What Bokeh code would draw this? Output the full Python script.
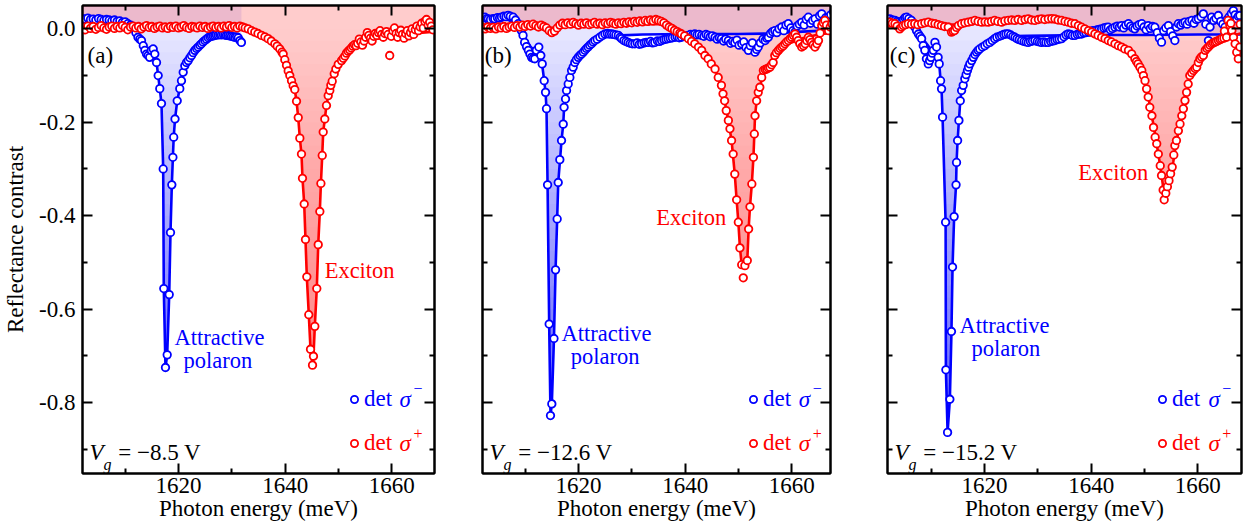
import numpy as np
from bokeh.plotting import figure
from bokeh.layouts import row
from bokeh.models import (Range1d, LinearAxis, FixedTicker, Label, Legend,
                          LegendItem, CustomJSTickFormatter)
from bokeh.core.properties import value
from bokeh.embed import file_html
from bokeh.resources import INLINE

FONT = "Liberation Serif"
BLUE = "#0000ff"
RED = "#ff0000"

# ---------------- data: (photon energy [meV], reflectance contrast) ----------------
# panel (a)  Vg = -8.5 V
A_BLUE = [(1602.0,0.022),(1602.5,0.021),(1603.0,0.023),(1603.5,0.020),(1604.0,0.021),(1604.5,0.019),
          (1605.0,0.022),(1605.5,0.020),(1606.0,0.018),(1606.5,0.020),(1607.0,0.019),(1607.5,0.017),
          (1608.0,0.019),(1608.5,0.016),(1609.0,0.017),(1609.5,0.014),(1610.0,0.015),(1610.5,0.011),
          (1611.0,0.008),(1611.5,0.002),(1612.0,-0.008),(1612.4,-0.018),(1612.75,-0.022),(1613.06,-0.025),
          (1613.4,-0.036),(1613.7,-0.046),(1614.0,-0.054),(1614.3,-0.057),(1614.6,-0.061),(1614.9,-0.046),
          (1615.26,-0.043),(1615.56,-0.054),(1615.88,-0.072),(1616.19,-0.100),(1616.49,-0.128),(1616.81,-0.160),
          (1617.13,-0.300),(1617.24,-0.556),(1617.56,-0.725),(1617.88,-0.698),(1618.26,-0.569),(1618.5,-0.436),
          (1618.75,-0.334),(1618.95,-0.275),(1619.1,-0.232),(1619.35,-0.193),(1619.76,-0.154),(1620.24,-0.128),
          (1620.56,-0.111),(1620.88,-0.093),(1621.18,-0.079),(1621.5,-0.072),(1621.82,-0.068),(1622.13,-0.062),
          (1622.44,-0.057),(1622.75,-0.051),(1623.06,-0.046),(1623.4,-0.042),(1623.69,-0.039),(1624.0,-0.035),
          (1624.3,-0.032),(1624.6,-0.028),(1624.93,-0.025),(1625.25,-0.022),(1625.57,-0.019),(1625.9,-0.017),
          (1626.19,-0.016),(1626.5,-0.015),(1626.8,-0.014),(1627.1,-0.013),(1627.44,-0.013),(1627.75,-0.012),
          (1628.06,-0.013),(1628.4,-0.012),(1628.7,-0.013),(1629.0,-0.014),(1629.3,-0.014),(1629.6,-0.015),
          (1629.93,-0.016),(1630.25,-0.017),(1630.56,-0.018),(1630.9,-0.017),(1631.2,-0.019),(1631.5,-0.025),
          (1631.8,-0.029)]
A_RED = [(1602.0,0.004),(1602.5,-0.002),(1603.0,0.006),(1603.5,0.001),(1604.0,0.005),(1604.5,-0.001),
         (1605.0,0.003),(1605.5,0.007),(1606.0,0.002),(1606.5,-0.001),(1607.0,0.004),(1607.5,0.006),
         (1608.0,0.001),(1608.5,0.005),(1609.0,0.002),(1609.5,0.007),(1610.0,0.003),(1610.5,-0.002),
         (1611.0,0.004),(1611.5,0.006),(1612.0,0.002),(1612.5,0.005),(1613.0,0.000),(1613.5,0.004),
         (1614.0,0.007),(1614.5,0.003),(1615.0,0.005),(1615.5,0.001),(1616.0,0.004),(1616.5,0.006),
         (1617.0,0.002),(1617.5,0.004),(1618.0,0.001),(1618.5,0.005),(1619.0,0.003),(1619.5,0.006),
         (1620.0,0.002),(1620.5,0.004),(1621.0,0.007),(1621.5,0.003),(1622.0,0.001),(1622.5,0.005),
         (1623.0,0.004),(1623.5,0.002),(1624.0,0.006),(1624.5,0.003),(1625.0,0.005),(1625.5,0.001),
         (1626.0,0.004),(1626.5,0.006),(1627.0,0.003),(1627.5,0.005),(1628.0,0.002),(1628.5,0.006),
         (1629.0,0.004),(1629.5,0.007),(1630.0,0.003),(1630.5,0.005),(1631.0,0.002),(1631.5,0.006),
         (1632.0,0.004),(1632.5,0.002),(1633.06,0.000),(1633.7,-0.004),(1634.3,-0.007),(1634.9,-0.010),
         (1635.56,-0.014),(1636.2,-0.017),(1636.8,-0.021),(1637.4,-0.026),(1638.06,-0.032),(1638.5,-0.037),
         (1639.0,-0.043),(1639.4,-0.050),(1639.63,-0.054),(1639.93,-0.066),(1640.25,-0.078),(1640.57,-0.090),
         (1640.87,-0.100),(1641.19,-0.111),(1641.5,-0.122),(1641.8,-0.130),(1642.13,-0.155),(1642.45,-0.190),
         (1642.75,-0.234),(1643.06,-0.268),(1643.25,-0.320),(1643.57,-0.375),(1643.81,-0.451),(1644.06,-0.531),
         (1644.43,-0.612),(1644.75,-0.686),(1645.13,-0.720),(1645.31,-0.701),(1645.56,-0.637),(1645.93,-0.556),
         (1646.2,-0.462),(1646.5,-0.391),(1646.7,-0.331),(1646.95,-0.271),(1647.13,-0.221),(1647.43,-0.193),
         (1647.75,-0.164),(1648.07,-0.143),(1648.37,-0.132),(1648.56,-0.121),(1648.82,-0.112),(1649.2,-0.096),
         (1649.5,-0.086),(1649.95,-0.076),(1650.57,-0.068),(1650.9,-0.063),(1651.2,-0.058),(1651.5,-0.052),
         (1651.8,-0.048),(1652.1,-0.045),(1652.4,-0.041),(1652.7,-0.037),(1653.0,-0.034),(1653.3,-0.036),
         (1653.6,-0.031),(1653.9,-0.022),(1654.2,-0.028),(1654.5,-0.035),(1654.8,-0.026),(1655.1,-0.018),
         (1655.4,-0.008),(1655.7,-0.014),(1656.0,-0.020),(1656.3,-0.026),(1656.6,-0.016),(1656.9,-0.010),
         (1657.2,-0.014),(1657.5,-0.008),(1657.8,-0.004),(1658.1,-0.012),(1658.4,-0.018),(1658.7,-0.010),
         (1659.0,-0.006),(1659.3,-0.012),(1659.6,-0.057),(1659.9,-0.016),(1660.2,-0.004),(1660.5,0.002),
         (1660.8,-0.010),(1661.1,-0.018),(1661.4,-0.008),(1661.7,-0.003),(1662.0,-0.012),(1662.3,-0.020),
         (1662.6,-0.010),(1662.9,-0.004),(1663.2,-0.015),(1663.5,-0.008),(1663.8,0.000),(1664.1,-0.012),
         (1664.4,-0.002),(1664.7,0.006),(1665.0,-0.004),(1665.3,0.004),(1665.6,0.012),(1665.9,0.002),
         (1666.2,0.016),(1666.5,0.020),(1666.8,0.008),(1667.1,0.014),(1667.4,0.006),(1667.7,-0.002)]
A_BLUE_FIT = [(1602,0.018),(1606,0.017),(1610,0.012),(1611,0.006),(1612,-0.008),(1613,-0.025),(1614,-0.045),
              (1615,-0.055),(1615.88,-0.072),(1616.19,-0.1),(1616.49,-0.128),(1616.81,-0.16),(1617.13,-0.3),
              (1617.24,-0.556),(1617.56,-0.725),(1617.88,-0.698),(1618.26,-0.569),(1618.5,-0.436),
              (1618.75,-0.334),(1618.95,-0.275),(1619.1,-0.232),(1619.35,-0.193),(1619.76,-0.154),
              (1620.24,-0.128),(1620.88,-0.093),(1621.5,-0.072),(1622.44,-0.057),(1623.7,-0.039),
              (1625,-0.026),(1626.5,-0.016),(1628,-0.013),(1630,-0.016),(1631.8,-0.022)]
A_RED_FIT = [(1602,0.002),(1620,0.002),(1630,0.001),(1633,-0.001),(1635.5,-0.012),(1637.4,-0.025),
             (1639,-0.042),(1639.93,-0.064),(1640.57,-0.088),(1641.19,-0.109),(1641.8,-0.13),(1642.13,-0.155),
             (1642.45,-0.19),(1642.75,-0.234),(1643.06,-0.268),(1643.25,-0.32),(1643.57,-0.375),
             (1643.81,-0.451),(1644.06,-0.531),(1644.43,-0.612),(1644.75,-0.686),(1645.13,-0.72),
             (1645.31,-0.701),(1645.56,-0.637),(1645.93,-0.556),(1646.2,-0.462),(1646.5,-0.391),
             (1646.7,-0.331),(1646.95,-0.271),(1647.13,-0.221),(1647.43,-0.193),(1647.75,-0.164),
             (1648.07,-0.143),(1648.56,-0.121),(1649.2,-0.096),(1649.95,-0.076),(1651,-0.057),
             (1653,-0.036),(1656,-0.024),(1660,-0.016),(1664,-0.01),(1668,-0.006)]

# panel (b)  Vg = -12.6 V
B_BLUE = [(1602.0,0.024),(1602.44,0.025),(1602.8,0.022),(1603.07,0.0215),(1603.5,0.020),(1604.0,0.022),
          (1604.3,0.0215),(1604.8,0.024),(1605.2,0.023),(1605.56,0.025),(1606.0,0.027),(1606.4,0.026),
          (1606.8,0.029),(1607.2,0.027),(1607.76,0.025),(1608.2,0.019),(1608.7,0.011),(1609.0,0.003),
          (1609.3,-0.004),(1609.6,-0.014),(1609.9,-0.029),(1610.25,-0.038),(1610.6,-0.046),(1610.9,-0.054),
          (1611.2,-0.061),(1611.5,-0.063),(1611.8,-0.064),(1612.1,-0.046),(1612.56,-0.039),(1612.94,-0.057),
          (1613.2,-0.075),(1613.57,-0.111),(1613.82,-0.136),(1614.0,-0.171),(1614.2,-0.334),(1614.5,-0.632),
          (1614.75,-0.828),(1615.0,-0.803),(1615.4,-0.663),(1615.7,-0.516),(1616.0,-0.407),(1616.2,-0.329),
          (1616.5,-0.280),(1616.82,-0.239),(1617.14,-0.204),(1617.3,-0.168),(1617.57,-0.150),(1617.76,-0.132),
          (1618.07,-0.118),(1618.38,-0.104),(1618.7,-0.089),(1619.0,-0.082),(1619.3,-0.072),(1619.6,-0.066),
          (1619.95,-0.061),(1620.25,-0.057),(1620.57,-0.054),(1620.9,-0.050),(1621.2,-0.046),(1621.5,-0.042),
          (1621.8,-0.039),(1622.1,-0.035),(1622.45,-0.032),(1622.75,-0.028),(1623.07,-0.025),(1623.5,-0.022),
          (1624.0,-0.018),(1624.5,-0.014),(1624.95,-0.011),(1625.4,-0.010),(1625.8,-0.011),(1626.2,-0.011),
          (1626.6,-0.012),(1627.0,-0.013),(1627.46,-0.014),(1627.8,-0.018),(1628.08,-0.021),(1628.5,-0.025),
          (1628.9,-0.027),(1629.3,-0.029),(1629.7,-0.031),(1630.1,-0.032),(1630.57,-0.032),(1631.0,-0.030),
          (1631.4,-0.033),(1631.83,-0.032),(1632.3,-0.030),(1632.7,-0.029),(1633.1,-0.029),(1633.5,-0.027),
          (1633.9,-0.030),(1634.3,-0.029),(1634.8,-0.026),(1635.2,-0.027),(1635.58,-0.025),(1636.0,-0.023),
          (1636.4,-0.022),(1636.8,-0.021),(1637.2,-0.020),(1637.6,-0.019),(1638.1,-0.018),(1638.5,-0.017),
          (1638.9,-0.019),(1639.3,-0.018),(1639.8,-0.016),(1640.2,-0.015),(1640.6,-0.014),(1641.0,-0.012),
          (1641.4,-0.013),(1641.8,-0.011),(1642.2,-0.013),(1642.6,-0.012),(1643.1,-0.014),(1643.5,-0.016),
          (1643.9,-0.012),(1644.3,-0.014),(1644.7,-0.017),(1645.1,-0.015),(1645.6,-0.018),(1646.0,-0.022),
          (1646.4,-0.019),(1646.8,-0.021),(1647.2,-0.026),(1647.6,-0.022),(1648.1,-0.025),(1648.5,-0.031),
          (1648.9,-0.027),(1649.3,-0.029),(1649.7,-0.024),(1650.1,-0.035),(1650.6,-0.032),(1651.0,-0.028),
          (1651.4,-0.040),(1651.85,-0.046),(1652.2,-0.036),(1652.6,-0.030),(1653.1,-0.050),(1653.4,-0.044),
          (1653.7,-0.039),(1654.1,-0.030),(1654.6,-0.022),(1655.0,-0.025),(1655.3,-0.020),(1655.6,-0.018),
          (1656.0,-0.010),(1656.4,-0.006),(1656.8,-0.004),(1657.2,-0.008),(1657.6,0.000),(1658.1,0.004),
          (1658.5,-0.004),(1658.9,0.008),(1659.35,0.011),(1659.8,0.002),(1660.2,-0.004),(1660.6,-0.007),
          (1661.0,0.006),(1661.4,0.010),(1661.85,0.014),(1662.3,0.008),(1662.7,0.020),(1663.1,0.025),
          (1663.5,0.012),(1663.9,0.018),(1664.35,0.0215),(1664.8,0.010),(1665.2,0.028),(1665.6,0.032),
          (1666.0,0.018),(1666.4,0.024),(1666.86,0.025),(1667.3,0.030),(1667.8,0.036)]
B_RED = [(1602.0,0.003),(1602.5,0.000),(1603.0,0.004),(1603.5,0.001),(1604.0,0.003),(1604.5,0.000),
         (1605.0,0.004),(1605.5,0.002),(1606.0,0.005),(1606.5,0.001),(1607.0,0.004),(1607.5,0.006),
         (1608.0,0.003),(1608.5,0.007),(1609.0,0.004),(1609.5,0.008),(1610.0,0.005),(1610.5,0.009),
         (1611.0,0.006),(1611.5,0.010),(1612.0,0.007),(1612.5,0.004),(1613.0,0.008),(1613.5,0.005),
         (1614.0,0.002),(1614.5,-0.004),(1615.0,-0.008),(1615.5,-0.005),(1616.0,0.002),(1616.5,0.008),
         (1617.0,0.012),(1617.5,0.009),(1618.0,0.013),(1618.5,0.010),(1619.0,0.014),(1619.5,0.011),
         (1620.0,0.008),(1620.5,0.012),(1621.0,0.010),(1621.5,0.013),(1622.0,0.009),(1622.5,0.011),
         (1623.0,0.014),(1623.5,0.010),(1624.0,0.012),(1624.5,0.009),(1625.0,0.013),(1625.5,0.011),
         (1626.0,0.014),(1626.5,0.012),(1627.0,0.010),(1627.5,0.013),(1628.0,0.011),(1628.5,0.014),
         (1629.0,0.012),(1629.5,0.015),(1630.0,0.013),(1630.5,0.016),(1631.0,0.014),(1631.5,0.017),
         (1632.0,0.015),(1632.5,0.018),(1633.0,0.016),(1633.5,0.019),(1634.0,0.017),(1634.5,0.020),
         (1635.0,0.018),(1635.5,0.016),(1636.0,0.013),(1636.5,0.008),(1637.0,0.004),(1637.5,0.001),
         (1638.0,-0.003),(1638.5,-0.006),(1639.0,-0.009),(1639.3,-0.011),(1639.9,-0.015),(1640.6,-0.021),
         (1641.2,-0.027),(1641.8,-0.032),(1642.5,-0.039),(1643.1,-0.046),(1643.7,-0.057),(1644.3,-0.064),
         (1644.9,-0.075),(1645.6,-0.086),(1646.2,-0.104),(1646.8,-0.121),(1647.1,-0.139),(1647.4,-0.154),
         (1647.7,-0.175),(1648.1,-0.196),(1648.4,-0.214),(1648.7,-0.239),(1649.0,-0.268),(1649.3,-0.311),
         (1649.65,-0.366),(1649.97,-0.414),(1650.27,-0.469),(1650.6,-0.505),(1650.9,-0.533),(1651.2,-0.507),
         (1651.65,-0.496),(1651.9,-0.4285),(1652.15,-0.381),(1652.5,-0.332),(1652.8,-0.275),(1652.97,-0.225),
         (1653.1,-0.186),(1653.4,-0.154),(1653.7,-0.136),(1654.0,-0.125),(1654.35,-0.104),(1654.66,-0.089),
         (1655.0,-0.087),(1655.3,-0.086),(1655.6,-0.084),(1655.9,-0.082),(1656.2,-0.077),(1656.5,-0.072),
         (1656.8,-0.057),(1657.1,-0.051),(1657.5,-0.046),(1657.8,-0.042),(1658.1,-0.039),(1658.4,-0.036),
         (1658.7,-0.032),(1659.0,-0.028),(1659.35,-0.025),(1659.7,-0.021),(1660.0,-0.018),(1660.3,-0.014),
         (1660.6,-0.011),(1660.9,-0.018),(1661.2,-0.025),(1661.5,-0.032),(1661.85,-0.039),(1662.2,-0.036),
         (1662.5,-0.032),(1662.8,-0.025),(1663.1,-0.018),(1663.4,-0.023),(1663.7,-0.029),(1664.0,-0.034),
         (1664.35,-0.039),(1664.7,-0.032),(1665.0,-0.025),(1665.3,-0.009),(1665.6,0.007),(1665.9,0.013),
         (1666.2,0.018),(1666.5,0.008),(1666.9,-0.004),(1667.2,0.004),(1667.5,0.011)]
B_BLUE_FIT = [(1602,0.02),(1606,0.022),(1608,0.014),(1609,0.002),(1610,-0.02),(1611,-0.038),(1612,-0.05),
              (1612.9,-0.062),(1613.2,-0.078),(1613.57,-0.111),(1613.82,-0.136),(1614.0,-0.171),
              (1614.2,-0.334),(1614.5,-0.632),(1614.75,-0.828),(1615.0,-0.803),(1615.4,-0.663),
              (1615.7,-0.516),(1616.0,-0.407),(1616.2,-0.329),(1616.82,-0.239),(1617.14,-0.204),
              (1617.3,-0.168),(1617.57,-0.15),(1617.76,-0.132),(1618.07,-0.118),(1618.38,-0.104),
              (1618.7,-0.089),(1619.3,-0.072),(1619.95,-0.061),(1620.57,-0.054),(1621.8,-0.04),
              (1623.07,-0.028),(1625,-0.018),(1628,-0.014),(1632,-0.012),(1640,-0.011),(1650,-0.011),
              (1656,-0.01),(1662,-0.006),(1668,-0.003)]
B_RED_FIT = [(1602,0.003),(1615,0.002),(1625,0.01),(1636,0.01),(1638,-0.003),(1639.3,-0.011),(1640.6,-0.021),
             (1641.8,-0.032),(1643.1,-0.046),(1644.3,-0.064),(1645.6,-0.086),(1646.8,-0.121),(1647.4,-0.154),
             (1648.1,-0.196),(1648.7,-0.239),(1649.3,-0.311),(1649.65,-0.366),(1649.97,-0.414),
             (1650.27,-0.469),(1650.6,-0.505),(1650.9,-0.51),(1651.2,-0.507),(1651.65,-0.496),
             (1651.9,-0.4285),(1652.15,-0.381),(1652.5,-0.332),(1652.8,-0.275),(1652.97,-0.225),
             (1653.1,-0.186),(1653.4,-0.154),(1654.0,-0.125),(1654.66,-0.095),(1655.9,-0.075),
             (1657.5,-0.05),(1659.35,-0.032),(1662,-0.02),(1665,-0.012),(1668,-0.008)]

# panel (c)  Vg = -15.2 V
C_BLUE = [(1602.0,0.020),(1602.25,0.0215),(1602.7,0.019),(1603.2,0.018),(1603.6,0.016),(1604.0,0.015),
          (1604.4,0.0143),(1604.8,0.020),(1605.1,0.024),(1605.4,0.025),(1605.8,0.022),(1606.3,0.018),
          (1606.6,0.011),(1606.9,0.004),(1607.25,-0.004),(1607.6,-0.011),(1607.9,-0.016),(1608.2,-0.021),
          (1608.5,-0.036),(1608.8,-0.046),(1609.1,-0.064),(1609.45,-0.075),(1609.7,-0.068),(1609.95,-0.061),
          (1610.2,-0.052),(1610.4,-0.046),(1610.7,-0.029),(1611.0,-0.039),(1611.3,-0.061),(1611.5,-0.075),
          (1611.76,-0.111),(1611.94,-0.1285),(1612.13,-0.189),(1612.7,-0.414),(1612.75,-0.730),(1613.07,-0.864),
          (1613.5,-0.793),(1613.8,-0.648),(1614.0,-0.510),(1614.3,-0.402),(1614.66,-0.334),(1614.75,-0.286),
          (1614.95,-0.239),(1615.2,-0.196),(1615.45,-0.154),(1615.7,-0.132),(1616.0,-0.121),(1616.3,-0.107),
          (1616.55,-0.098),(1616.8,-0.089),(1617.0,-0.082),(1617.25,-0.075),(1617.6,-0.068),(1617.9,-0.061),
          (1618.2,-0.055),(1618.5,-0.050),(1618.8,-0.046),(1619.1,-0.043),(1619.6,-0.039),(1620.05,-0.036),
          (1620.5,-0.032),(1621.0,-0.029),(1621.45,-0.025),(1621.9,-0.021),(1622.3,-0.018),(1622.8,-0.016),
          (1623.2,-0.014),(1623.6,-0.012),(1624.0,-0.011),(1624.45,-0.0107),(1624.9,-0.013),(1625.3,-0.016),
          (1625.7,-0.018),(1626.1,-0.021),(1626.5,-0.023),(1626.95,-0.025),(1627.4,-0.027),(1627.8,-0.028),
          (1628.2,-0.029),(1628.6,-0.027),(1629.0,-0.026),(1629.45,-0.025),(1629.9,-0.027),(1630.3,-0.028),
          (1630.7,-0.029),(1631.1,-0.028),(1631.5,-0.029),(1631.96,-0.029),(1632.4,-0.027),(1632.8,-0.026),
          (1633.2,-0.025),(1633.6,-0.023),(1634.0,-0.022),(1634.46,-0.021),(1634.9,-0.017),(1635.3,-0.013),
          (1635.7,-0.011),(1636.1,-0.012),(1636.5,-0.014),(1636.96,-0.014),(1637.4,-0.012),(1637.8,-0.011),
          (1638.2,-0.011),(1638.6,-0.009),(1639.0,-0.008),(1639.5,-0.007),(1639.9,-0.006),(1640.3,-0.004),
          (1640.7,-0.0036),(1641.1,-0.002),(1641.5,-0.001),(1641.96,0.000),(1642.4,0.002),(1642.8,0.003),
          (1643.2,0.0036),(1643.6,-0.002),(1644.0,0.001),(1644.46,0.0036),(1644.9,0.006),(1645.3,0.004),
          (1645.7,0.007),(1646.1,0.002),(1646.5,0.008),(1647.0,0.011),(1647.4,0.006),(1647.8,0.002),
          (1648.2,0.000),(1648.6,0.006),(1649.0,0.009),(1649.5,0.011),(1649.9,0.004),(1650.3,-0.002),
          (1650.7,0.007),(1651.1,0.001),(1651.5,0.005),(1651.96,0.0036),(1652.4,-0.008),(1652.8,-0.020),
          (1653.2,-0.0286),(1653.6,-0.004),(1654.0,0.002),(1654.5,0.007),(1654.9,-0.006),(1655.3,-0.015),
          (1655.7,-0.025),(1656.0,0.004),(1656.36,0.011),(1656.8,0.008),(1657.2,0.012),(1657.6,0.0143),
          (1658.0,0.010),(1658.4,0.016),(1658.9,0.018),(1659.3,0.012),(1659.7,0.020),(1660.1,0.0215),
          (1660.6,0.026),(1661.05,0.032),(1661.5,0.010),(1662.0,-0.025),(1662.3,0.004),(1662.6,0.025),
          (1663.0,0.018),(1663.4,0.022),(1663.86,0.0286),(1664.3,0.016),(1664.7,0.010),(1665.1,0.0036),
          (1665.5,0.020),(1665.9,0.026),(1666.3,0.033),(1666.67,0.039),(1667.0,0.030),(1667.3,0.0215),
          (1667.6,0.027),(1667.9,0.0286)]
C_RED = [(1602.0,0.012),(1602.25,0.0143),(1602.7,0.012),(1603.2,0.011),(1603.6,0.006),(1604.1,0.000),
         (1604.45,0.004),(1604.75,0.007),(1605.2,0.009),(1605.7,0.011),(1606.3,0.010),(1606.9,0.011),
         (1607.5,0.009),(1608.2,0.011),(1608.8,0.013),(1609.45,0.0143),(1610.1,0.012),(1610.7,0.011),
         (1611.3,0.009),(1611.9,0.007),(1612.5,0.005),(1613.2,0.004),(1613.8,-0.007),(1614.1,-0.005),
         (1614.4,-0.0036),(1614.75,0.003),(1615.1,0.007),(1615.7,0.011),(1616.3,0.013),(1616.95,0.0143),
         (1617.6,0.016),(1618.2,0.018),(1618.8,0.016),(1619.45,0.0143),(1620.1,0.015),(1620.7,0.0143),
         (1621.3,0.016),(1621.9,0.018),(1622.5,0.016),(1623.2,0.0143),(1623.8,0.017),(1624.45,0.018),
         (1625.1,0.019),(1625.7,0.018),(1626.3,0.020),(1626.95,0.018),(1627.6,0.020),(1628.2,0.0215),
         (1628.8,0.019),(1629.45,0.018),(1630.1,0.020),(1630.7,0.0215),(1631.3,0.020),(1631.96,0.0215),
         (1632.6,0.022),(1633.2,0.0215),(1633.8,0.019),(1634.46,0.018),(1635.1,0.016),(1635.7,0.0143),
         (1636.3,0.012),(1636.96,0.011),(1637.6,0.007),(1638.2,0.0036),(1638.8,0.000),(1639.5,-0.0036),
         (1640.1,-0.007),(1640.7,-0.0107),(1641.3,-0.014),(1641.96,-0.018),(1642.6,-0.021),(1643.2,-0.025),
         (1643.8,-0.028),(1644.46,-0.032),(1645.1,-0.036),(1645.7,-0.039),(1646.3,-0.043),(1647.0,-0.046),
         (1647.6,-0.0535),(1648.2,-0.064),(1648.5,-0.070),(1648.8,-0.075),(1649.15,-0.082),(1649.5,-0.089),
         (1649.8,-0.100),(1650.1,-0.111),(1650.4,-0.1285),(1650.7,-0.146),(1651.0,-0.168),(1651.4,-0.186),
         (1651.7,-0.211),(1652.0,-0.232),(1652.3,-0.246),(1652.6,-0.268),(1652.96,-0.293),(1653.2,-0.314),
         (1653.5,-0.345),(1653.7,-0.366),(1654.0,-0.352),(1654.3,-0.338),(1654.6,-0.325),(1654.9,-0.310),
         (1655.2,-0.296),(1655.5,-0.270),(1655.7,-0.250),(1656.0,-0.239),(1656.36,-0.218),(1656.67,-0.2036),
         (1657.0,-0.186),(1657.3,-0.171),(1657.6,-0.1536),(1657.9,-0.136),(1658.2,-0.118),(1658.5,-0.100),
         (1658.85,-0.094),(1659.2,-0.089),(1659.5,-0.085),(1659.8,-0.082),(1660.1,-0.072),(1660.4,-0.064),
         (1660.7,-0.060),(1661.05,-0.057),(1661.4,-0.046),(1661.7,-0.042),(1662.0,-0.039),(1662.3,-0.035),
         (1662.6,-0.032),(1662.9,-0.030),(1663.2,-0.0286),(1663.5,-0.027),(1663.86,-0.025),(1664.2,-0.023),
         (1664.5,-0.021),(1664.9,-0.020),(1665.0,-0.005),(1665.4,-0.018),(1665.7,0.018),(1666.0,0.008),
         (1666.2,0.012),(1666.4,-0.0036),(1666.7,-0.018),(1667.0,-0.032),(1667.3,-0.050),(1667.6,-0.064),
         (1667.9,-0.039),(1667.95,0.010)]
C_BLUE_FIT = [(1602,0.015),(1605,0.015),(1607,0.0),(1608,-0.014),(1609,-0.03),(1610,-0.045),(1611,-0.058),
              (1611.5,-0.075),(1611.76,-0.11),(1611.94,-0.1285),(1612.13,-0.189),(1612.7,-0.414),
              (1612.75,-0.73),(1613.07,-0.864),(1613.5,-0.793),(1613.8,-0.648),(1614.0,-0.51),(1614.3,-0.402),
              (1614.66,-0.334),(1614.75,-0.286),(1614.95,-0.239),(1615.2,-0.196),(1615.45,-0.154),
              (1615.7,-0.132),(1616.0,-0.121),(1616.3,-0.107),(1616.8,-0.089),(1617.25,-0.075),
              (1617.9,-0.061),(1618.5,-0.05),(1619.1,-0.043),(1620.05,-0.036),(1621.9,-0.022),
              (1624.45,-0.016),(1628,-0.015),(1635,-0.014),(1642,-0.013),(1650,-0.013),(1660,-0.012),
              (1668,-0.012)]
C_RED_FIT = [(1602,0.008),(1615,0.01),(1630,0.016),(1637,0.012),(1639.5,-0.003),(1641.96,-0.017),
             (1644.46,-0.031),(1647.0,-0.047),(1648.2,-0.063),(1649.5,-0.088),(1650.4,-0.125),(1651.0,-0.163),
             (1651.7,-0.206),(1652.3,-0.247),(1652.96,-0.293),(1653.5,-0.338),(1653.84,-0.35),(1654.1,-0.348),
             (1654.8,-0.325),(1655.4,-0.285),(1656.0,-0.24),(1656.67,-0.204),(1657.3,-0.17),(1657.9,-0.136),
             (1658.5,-0.103),(1659.8,-0.078),(1661.4,-0.048),(1663.2,-0.03),(1665.4,-0.018),(1668,-0.01)]

X_TICKS = [1620, 1640, 1660]
X_MINOR = [1610, 1630, 1650]
Y_TICKS = [-0.8, -0.6, -0.4, -0.2, 0.0]
Y_MINOR = [-0.9, -0.7, -0.5, -0.3, -0.1]
PANEL_TAGS = ["(a)", "(b)", "(c)"]
VG_VALUES = ["\u22128.5", "\u221212.6", "\u221215.2"]
X_RANGES = [(1602.0, 1668.0), (1602.0, 1667.25), (1601.8, 1668.2)]
Y_RANGE = (-0.952, 0.05)


def unzip(pairs):
    return np.array([a for a, _ in pairs], float), np.array([b for _, b in pairs], float)


def alpha_blue(y):
    return 0.09 + 0.55 * max(0.0, -y)


def alpha_red(y):
    return 0.2 + 0.32 * max(0.0, -y)


def region_below(fx, fy, t):
    xs = list(fx)
    for i in range(len(fx) - 1):
        y0, y1 = fy[i], fy[i + 1]
        if (y0 - t) * (y1 - t) < 0:
            xs.append(fx[i] + (t - y0) / (y1 - y0) * (fx[i + 1] - fx[i]))
    xs = np.array(sorted(xs))
    ys = np.interp(xs, fx, fy)
    return xs, np.minimum(ys, t)


def add_gradient_fill(p, fx, fy, color, afn):
    levels = [0.07] + [round(-0.025 * k, 4) for k in range(0, 37)]
    prev = 0.0
    for i, t in enumerate(levels):
        nxt = levels[i + 1] if i + 1 < len(levels) else t - 0.05
        A = afn(0.5 * (t + nxt))
        da = 1.0 - (1.0 - A) / (1.0 - prev)
        prev = A
        xs, lo = region_below(fx, fy, t)
        p.varea(x=xs, y1=lo, y2=np.full_like(xs, t), fill_color=color,
                fill_alpha=max(da, 0.0))


def style_axis(ax, ticks, minor, code):
    ax.ticker = FixedTicker(ticks=ticks, minor_ticks=minor)
    ax.axis_line_color = "black"
    ax.axis_line_width = 2
    ax.major_tick_line_color = "black"
    ax.major_tick_line_width = 2
    ax.minor_tick_line_color = "black"
    ax.minor_tick_line_width = 2
    ax.major_tick_in = 10
    ax.major_tick_out = 0
    ax.minor_tick_in = 5
    ax.minor_tick_out = 0
    if code:
        ax.formatter = CustomJSTickFormatter(code=code)
        ax.major_label_text_font = FONT
        ax.major_label_text_font_size = "23px"
        ax.major_label_text_color = "black"
    else:
        ax.formatter = CustomJSTickFormatter(code="return ''")
        ax.major_label_text_font_size = "0px"
        ax.major_label_standoff = 0


def add_text(p, x, y, text, color="black", size="23px", style="normal", align="left"):
    p.add_layout(Label(x=x, y=y, text=text, text_color=color, text_font=FONT,
                       text_font_size=size, text_font_style=style,
                       text_align=align, text_baseline="middle"))


def make_panel(k, blue, red, bfit, rfit, fw, bl, br, lab):
    x0, x1 = X_RANGES[k]
    p = figure(frame_width=fw, frame_height=468, x_range=Range1d(x0, x1),
               y_range=Range1d(*Y_RANGE), output_backend="svg", toolbar_location=None,
               min_border_left=bl, min_border_right=br, min_border_top=5, min_border_bottom=58,
               background_fill_color="white", border_fill_color="white")
    p.xgrid.visible = False
    p.ygrid.visible = False
    p.outline_line_color = "black"
    p.outline_line_width = 2
    p.outline_line_alpha = 1.0

    xb = p.xaxis[0]
    style_axis(xb, X_TICKS, X_MINOR, "return tick.toFixed(0)")
    xb.major_label_standoff = 4
    xb.axis_label = "Photon energy (meV)"
    xb.axis_label_text_font = FONT
    xb.axis_label_text_font_size = "23px"
    xb.axis_label_text_font_style = "normal"
    xb.axis_label_text_color = "black"
    xb.axis_label_standoff = 0

    yl = p.yaxis[0]
    if k == 0:
        style_axis(yl, Y_TICKS, Y_MINOR, "return tick.toFixed(1)")
        yl.major_label_standoff = 7
        yl.axis_label = "Reflectance contrast"
        yl.axis_label_text_font = FONT
        yl.axis_label_text_font_size = "23px"
        yl.axis_label_text_font_style = "normal"
        yl.axis_label_text_color = "black"
        yl.axis_label_standoff = 8
    else:
        style_axis(yl, Y_TICKS, Y_MINOR, None)

    xt = LinearAxis()
    style_axis(xt, X_TICKS, X_MINOR, None)
    p.add_layout(xt, "above")
    yr = LinearAxis()
    style_axis(yr, Y_TICKS, Y_MINOR, None)
    p.add_layout(yr, "right")

    bx, by = unzip(blue)
    rx, ry = unzip(red)
    bfx, bfy = unzip(bfit)
    rfx, rfy = unzip(rfit)

    add_gradient_fill(p, bfx, bfy, BLUE, alpha_blue)
    add_gradient_fill(p, rfx, rfy, RED, alpha_red)

    p.line(bfx, bfy, line_color=BLUE, line_width=2.6)
    sb = p.scatter(bx, by, marker="circle", size=7.5, line_color=BLUE, fill_color="white", line_width=1.8)
    p.line(rfx, rfy, line_color=RED, line_width=2.6)
    sr = p.scatter(rx, ry, marker="circle", size=7.5, line_color=RED, fill_color="white", line_width=1.8)

    # legends (one per series so each label has its own colour)
    for rend, col, bottom in ((sb, BLUE, 61), (sr, RED, 17)):
        lg = Legend(items=[LegendItem(label=value("det"), renderers=[rend])],
                    location=(lab["leg_x"], bottom), orientation="vertical",
                    padding=0, margin=0, spacing=0, glyph_width=18, glyph_height=26,
                    label_height=26, label_standoff=1, label_text_font=FONT,
                    label_text_font_size="23px", label_text_color=col,
                    border_line_color=None, background_fill_alpha=0)
        p.add_layout(lg)

    xl = x0
    add_text(p, xl + lab["sig"], -0.794, "\u03c3", BLUE, style="italic")
    add_text(p, xl + lab["sig"] + 2.6, -0.771, "\u2212", BLUE, size="16px")
    add_text(p, xl + lab["sig"], -0.8885, "\u03c3", RED, style="italic")
    add_text(p, xl + lab["sig"] + 2.6, -0.867, "+", RED, size="16px")

    add_text(p, lab["tag"][0], lab["tag"][1], PANEL_TAGS[k])
    add_text(p, lab["att"][0], lab["att"][1], "Attractive", BLUE, size="22.5px", align="center")
    add_text(p, lab["pol"][0], lab["pol"][1], "polaron", BLUE, size="22.5px", align="center")
    add_text(p, lab["exc"][0], lab["exc"][1], "Exciton", RED, size="22.5px")

    add_text(p, xl + 1.31, -0.906, "V", style="italic")
    add_text(p, xl + 3.94, -0.933, "g", size="16px", style="italic")
    add_text(p, xl + 6.7, -0.906, "= " + VG_VALUES[k] + " V")
    return p


LABS = [
    dict(tag=(1602.94, -0.057), att=(1627.7, -0.661), pol=(1627.4, -0.710), exc=(1647.4, -0.518),
         leg_x=263, sig=59.44),
    dict(tag=(1602.43, -0.057), att=(1625.25, -0.653), pol=(1625.0, -0.702), exc=(1634.6, -0.404),
         leg_x=262, sig=59.3),
    dict(tag=(1602.23, -0.057), att=(1623.75, -0.636), pol=(1624.0, -0.685), exc=(1637.6, -0.308),
         leg_x=266, sig=60.2),
]

pa = make_panel(0, A_BLUE, A_RED, A_BLUE_FIT, A_RED_FIT, 352, 81, 24, LABS[0])
pb = make_panel(1, B_BLUE, B_RED, B_BLUE_FIT, B_RED_FIT, 348, 24, 28, LABS[1])
pc = make_panel(2, C_BLUE, C_RED, C_BLUE_FIT, C_RED_FIT, 354, 29, 13, LABS[2])

layout = row(pa, pb, pc)
open("out.html", "w").write(file_html(layout, INLINE))
